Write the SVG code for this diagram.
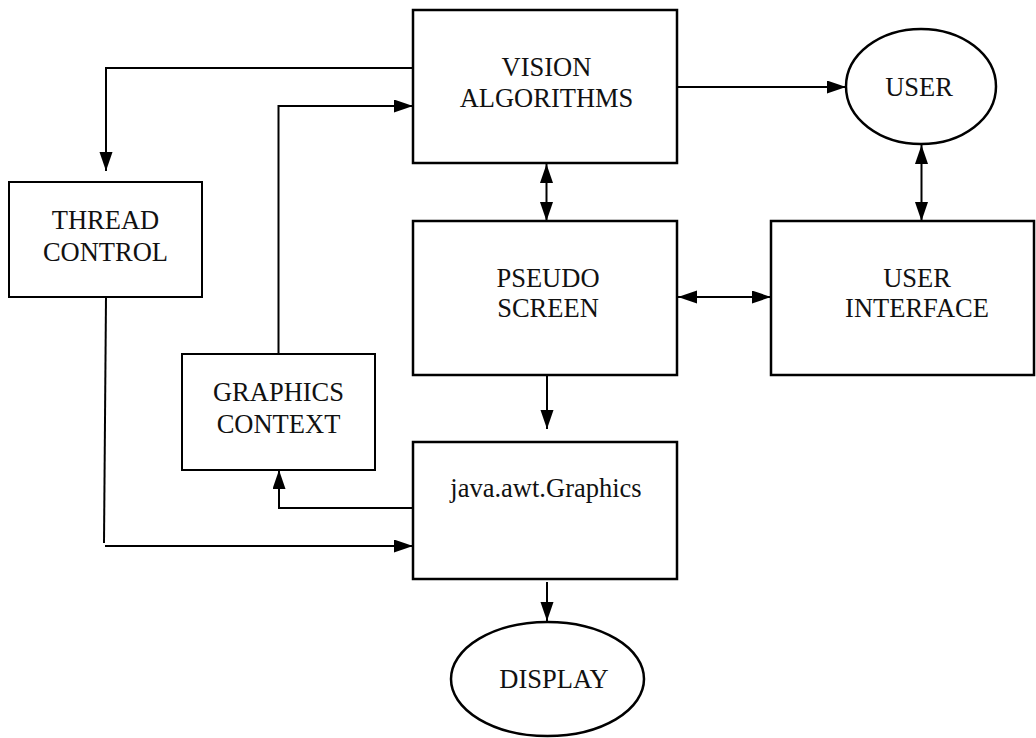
<svg xmlns="http://www.w3.org/2000/svg" width="1036" height="738" viewBox="0 0 1036 738">
<defs>
<marker id="ah" markerUnits="userSpaceOnUse" markerWidth="20" markerHeight="14" refX="19" refY="6.5" orient="auto-start-reverse">
<path d="M0,0 L19,6.5 L0,13 z" fill="#000"/>
</marker>
<style>
.box{fill:#fff;stroke:#000;stroke-width:2.5}
.thin{stroke-width:2}
text{font-family:Liberation Serif,Times New Roman,serif;font-size:26.5px;fill:#111;text-anchor:middle}
.c{fill:none;stroke:#000;stroke-width:2}
</style>
</defs>
<rect width="1036" height="738" fill="#fff"/>
<g id="connectors">
<path class="c" d="M413,68 H106 V171" marker-end="url(#ah)"/>
<path class="c" d="M278.5,354 V106 H413" marker-end="url(#ah)"/>
<path class="c" d="M106,297 L104,543"/>
<path class="c" d="M105,546 H413" marker-end="url(#ah)"/>
<path class="c" d="M413,508 H279 V470" marker-end="url(#ah)"/>
<path class="c" d="M546.5,164 V221" marker-start="url(#ah)" marker-end="url(#ah)"/>
<path class="c" d="M547,373 V429" marker-end="url(#ah)"/>
<path class="c" d="M547,582 V621" marker-end="url(#ah)"/>
<path class="c" d="M677,87 H846" marker-end="url(#ah)"/>
<path class="c" d="M921.5,145 V221" marker-start="url(#ah)" marker-end="url(#ah)"/>
<path class="c" d="M678,297 H771" marker-start="url(#ah)" marker-end="url(#ah)"/>
</g>
<g id="vision">
<rect class="box" x="413" y="10" width="264" height="153"/>
<text x="546.5" y="76" font-family="Liberation Serif, serif">VISION</text>
<text x="546.5" y="107" font-family="Liberation Serif, serif">ALGORITHMS</text>
</g>
<g id="user">
<ellipse class="box" cx="921" cy="86.5" rx="75" ry="57.5"/>
<text x="919" y="96" font-family="Liberation Serif, serif">USER</text>
</g>
<g id="thread">
<rect class="box thin" x="9" y="182" width="193" height="115"/>
<text x="105.5" y="229" font-family="Liberation Serif, serif">THREAD</text>
<text x="105.5" y="261" font-family="Liberation Serif, serif">CONTROL</text>
</g>
<g id="pseudo">
<rect class="box" x="413" y="221" width="264" height="154"/>
<text x="548" y="287" font-family="Liberation Serif, serif">PSEUDO</text>
<text x="548" y="317" font-family="Liberation Serif, serif">SCREEN</text>
</g>
<g id="ui">
<rect class="box" x="771" y="221" width="263" height="154"/>
<text x="917" y="287" font-family="Liberation Serif, serif">USER</text>
<text x="917" y="317" font-family="Liberation Serif, serif">INTERFACE</text>
</g>
<g id="gcontext">
<rect class="box thin" x="182" y="354" width="193" height="116"/>
<text x="278.5" y="401" font-family="Liberation Serif, serif">GRAPHICS</text>
<text x="278.5" y="433" font-family="Liberation Serif, serif">CONTEXT</text>
</g>
<g id="graphics">
<rect class="box" x="413" y="442" width="264" height="137"/>
<text x="546" y="497" font-family="Liberation Serif, serif">java.awt.Graphics</text>
</g>
<g id="display">
<ellipse class="box" cx="547.5" cy="679" rx="96.5" ry="57"/>
<text x="554" y="688" font-family="Liberation Serif, serif">DISPLAY</text>
</g>
</svg>
